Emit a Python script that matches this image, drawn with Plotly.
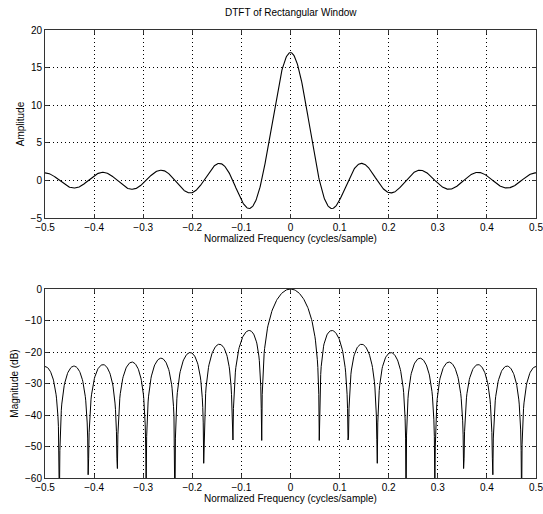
import numpy as np
import plotly.graph_objects as go

# Data: 17-point rectangular window (centered, n = -8..8)
window = [1] * 17
n_index = list(range(-8, 9))
nfft = 1024

title_text = "DTFT of Rectangular Window"
x_title = "Normalized Frequency (cycles/sample)"
y1_title = "Amplitude"
y2_title = "Magnitude (dB)"
x_ticks = [-0.5, -0.4, -0.3, -0.2, -0.1, 0, 0.1, 0.2, 0.3, 0.4, 0.5]
x_ticklabels = ["\u22120.5", "\u22120.4", "\u22120.3", "\u22120.2", "\u22120.1", "0", "0.1", "0.2", "0.3", "0.4", "0.5"]
y1_ticks = [-5, 0, 5, 10, 15, 20]
y1_ticklabels = ["\u22125", "0", "5", "10", "15", "20"]
y2_ticks = [-60, -50, -40, -30, -20, -10, 0]
y2_ticklabels = ["\u221260", "\u221250", "\u221240", "\u221230", "\u221220", "\u221210", "0"]

# DTFT of the window sampled on nfft frequencies over [-0.5, 0.5]
w = np.array(window, dtype=float)
n = np.array(n_index, dtype=float)
f = (np.arange(nfft + 1) - nfft // 2) / nfft
W = (w[None, :] * np.exp(-2j * np.pi * f[:, None] * n[None, :])).sum(axis=1)
amp = W.real
mag_db = 20 * np.log10(np.maximum(np.abs(W), 1e-12) / np.abs(W).max())

fig = go.Figure()
fig.add_trace(go.Scatter(x=f, y=amp, mode="lines", line=dict(color="black", width=1.1),
                         xaxis="x", yaxis="y", showlegend=False, cliponaxis=True))
fig.add_trace(go.Scatter(x=f, y=mag_db, mode="lines", line=dict(color="black", width=1),
                         xaxis="x2", yaxis="y2", showlegend=False, cliponaxis=True))

W_px, H_px = 543, 514
xl, xr = 45 / W_px, 536 / W_px
font = dict(family="Liberation Sans, Arial, sans-serif", size=10, color="black")

axis_common = dict(showline=True, linecolor="#333", linewidth=1, mirror="ticks",
                   ticks="inside", ticklen=4, tickcolor="#333",
                   showgrid=True, gridcolor="black", griddash="1px,3px", gridwidth=1,
                   zeroline=False, tickfont=font, ticklabeloverflow="allow", automargin=False)

eps = 1e-6
fig.update_layout(
    width=W_px, height=H_px,
    margin=dict(l=0, r=0, t=0, b=0, autoexpand=False),
    paper_bgcolor="white", plot_bgcolor="white",
    font=font,
    xaxis=dict(domain=[xl, xr], anchor="y", range=[-0.5 - eps, 0.5 + eps], tickvals=x_ticks, ticktext=x_ticklabels,
               title=dict(text=x_title, font=font, standoff=2), **axis_common),
    yaxis=dict(domain=[1 - 218 / H_px, 1 - 30 / H_px], anchor="x", range=[-5, 20],
               tickvals=y1_ticks, ticktext=y1_ticklabels,
               title=dict(text=y1_title, font=font, standoff=4), **axis_common),
    xaxis2=dict(domain=[xl, xr], anchor="y2", range=[-0.5 - eps, 0.5 + eps], tickvals=x_ticks, ticktext=x_ticklabels,
                title=dict(text=x_title, font=font, standoff=2), **axis_common),
    yaxis2=dict(domain=[1 - 478 / H_px, 1 - 289 / H_px], anchor="x2", range=[-60, 0],
                tickvals=y2_ticks, ticktext=y2_ticklabels,
                title=dict(text=y2_title, font=font, standoff=4), **axis_common),
    annotations=[dict(text=title_text, x=(xl + xr) / 2, y=1 - 12 / H_px, xref="paper", yref="paper",
                      showarrow=False, font=font, xanchor="center", yanchor="middle")],
)

fig.write_html("out.html")
